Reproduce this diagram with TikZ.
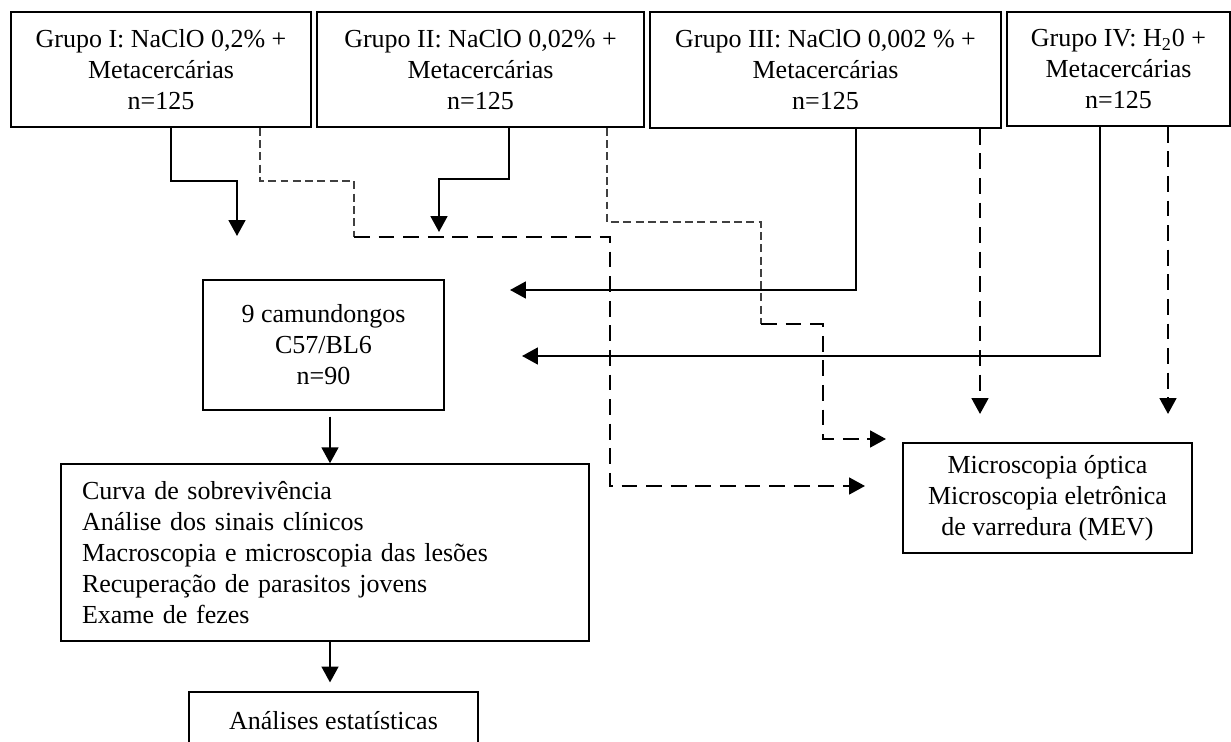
\documentclass[tikz,border=0pt]{standalone}
\usepackage{fontspec}
\setmainfont{Liberation Serif}
\usetikzlibrary{arrows.meta,calc}
\begin{document}
\begin{tikzpicture}[x=0.02cm,y=-0.02cm,
  box/.style={draw, line width=0.85pt, inner sep=0pt, align=center,
    font=\fontsize{14.8}{17.6}\selectfont},
  tip/.style={-{Triangle[width=9.5pt,length=9pt]}},
  solidarr/.style={line width=1.25pt, tip},
  thindash/.style={line width=0.75pt, draw=black!75, dash pattern=on 4.5pt off 2.5pt},
  thickdash/.style={line width=1.25pt, dash pattern=on 9pt off 5pt},
]
\useasboundingbox (0,0) rectangle (1231,742);

% group boxes
\node[box, minimum width=6cm, minimum height=2.3cm] (g1) at (161,69.5)
  {Grupo I: NaClO 0,2\% +\\Metacercárias\\n=125};
\node[box, minimum width=6.54cm, minimum height=2.3cm] (g2) at (480.5,69.5)
  {Grupo II: NaClO 0,02\% +\\Metacercárias\\n=125};
\node[box, minimum width=7.02cm, minimum height=2.32cm] (g3) at (825.5,70)
  {Grupo III: NaClO 0,002 \% +\\Metacercárias\\n=125};
\node[box, minimum width=4.46cm, minimum height=2.28cm] (g4) at (1118.5,69)
  {Grupo IV: H\textsubscript{2}0 +\\Metacercárias\\n=125};

% other boxes
\node[box, minimum width=4.82cm, minimum height=2.6cm] (cam) at (323.5,345)
  {9 camundongos\\C57/BL6\\n=90};
\node[box, align=left, text width=9.72cm, inner xsep=0.42cm, minimum height=3.54cm] (curva) at (325,552.5)
  {Curva de sobrevivência\\Análise dos sinais clínicos\\Macroscopia e microscopia das lesões\\Recuperação de parasitos jovens\\Exame de fezes};
\node[box, minimum width=5.78cm, minimum height=1.16cm] (ana) at (333.5,721)
  {Análises estatísticas};
\node[box, minimum width=5.78cm, minimum height=2.2cm] (micro) at (1047.5,498)
  {Microscopia óptica\\Microscopia eletrônica\\de varredura (MEV)};

% free arrow ends
\coordinate (t1) at (237,236);
\coordinate (t2) at (865,486);
\coordinate (t3) at (439,232);
\coordinate (t4) at (886,439);
\coordinate (t5) at (510,290);
\coordinate (t6) at (980,414);
\coordinate (t7) at (522,356);
\coordinate (t8) at (1168,414);
\coordinate (j1) at (354,237);
\coordinate (j2) at (761,324);

% group I
\draw[solidarr] (g1.south -| 171,0) |- (237,181) -- (t1);
\draw[thindash] (g1.south -| 260,0) |- (354,181) -- (j1);
\draw[thickdash, tip] (j1) -- (610,237) -- (610,486) -- (t2);

% group II
\draw[solidarr] (g2.south -| 509,0) |- (439,179) -- (t3);
\draw[thindash] (g2.south -| 607,0) |- (761,222) -- (j2);
\draw[thickdash, tip] (j2) -| (823,439) -- (t4);

% group III
\draw[solidarr] (g3.south -| 856,0) |- (t5);
\draw[thickdash, tip] (g3.south -| 980,0) -- (t6);

% group IV
\draw[solidarr] (g4.south -| 1100,0) |- (t7);
\draw[thickdash, tip] (g4.south -| 1168,0) -- (t8);

% vertical chain
\draw[solidarr, shorten <=3.4pt] (cam.south -| 330,0) -- (curva.north -| 330,0);
\draw[solidarr, shorten >=5pt] (curva.south -| 330,0) -- (ana.north -| 330,0);
\end{tikzpicture}
\end{document}
